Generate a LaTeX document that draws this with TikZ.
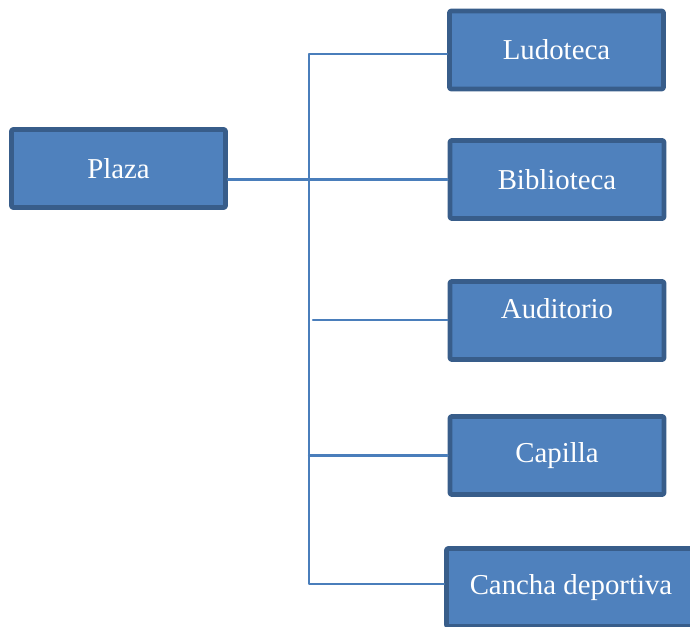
\documentclass[tikz,border=0pt]{standalone}
\usepackage{fontspec}
\setmainfont{Liberation Serif}
\definecolor{boxfill}{HTML}{4F81BD}
\definecolor{boxline}{HTML}{385D8A}
\definecolor{linkblue}{HTML}{4A7EBB}
\begin{document}
\begin{tikzpicture}[x=0.025cm, y=-0.025cm, font=\fontsize{20.5}{24}\selectfont, line join=round, line cap=round,
  box/.style={draw=boxline, fill=boxfill, line width=3.5pt, text=white, minimum width=5.35cm, minimum height=1.95cm, rounded corners=1.5pt},
  link/.style={draw=linkblue, line width=1.5pt}]
\def\xbus{309}
\useasboundingbox (0,0) rectangle (690,626);
\clip (0,0) rectangle (690,626);
\node[box] (plaza) at (118.5,168.5) {Plaza};
\node[box] (ludo) at (556.5,50) {Ludoteca};
\node[box] (biblio) at (557,179.5) {Biblioteca};
\node[box, text depth=0.6cm] (audi) at (557,320.5) {Auditorio};
\node[box] (capi) at (557,455.5) {Capilla};
\node[box, minimum width=6.225cm] (cancha) at (571,587.5) {Cancha deportiva};
\coordinate (bustop) at (\xbus,54);
\coordinate (busbot) at (\xbus,584);
\coordinate (audistart) at (313,320);
\draw[link] (ludo.west |- bustop) -- (bustop) -- (busbot) -- (cancha.west |- busbot);
\draw[link] (plaza.east |- biblio.west) -- (biblio.west);
\draw[link] (audistart) -- (audi.west |- audistart);
\draw[link] (busbot |- capi.west) -- (capi.west);
\end{tikzpicture}
\end{document}
